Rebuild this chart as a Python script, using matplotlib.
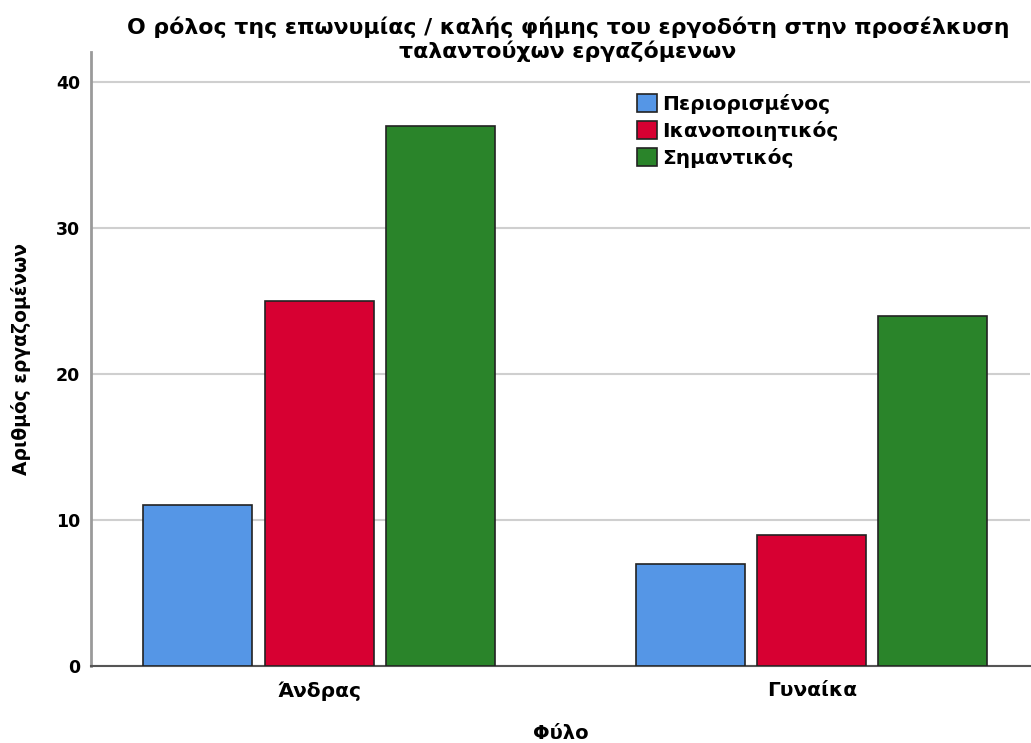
import matplotlib.pyplot as plt
import numpy as np

plt.rcParams['font.family'] = ['DejaVu Sans']

# Counts per gender and rating
genders = ['Άνδρας', 'Γυναίκα']
ratings = ['Περιορισμένος', 'Ικανοποιητικός', 'Σημαντικός']
counts = {
    'Περιορισμένος': [11, 7],
    'Ικανοποιητικός': [25, 9],
    'Σημαντικός': [37, 24],
}
colors = ['#5596E6', '#D70032', '#2A842A']

fig = plt.figure(figsize=(10.31, 7.43), dpi=100)
ax = fig.add_axes([0.0883, 0.1036, 0.9107, 0.8264])

x = np.arange(len(genders))
width = 0.2215
step = 0.246
for i, (r, c) in enumerate(zip(ratings, colors)):
    ax.bar(x + (i - 1) * step, counts[r], width, color=c, edgecolor='#222222',
           linewidth=1.2, label=r, zorder=3)

ax.set_xlim(-0.463, 1.443)
ax.set_ylim(0, 42.05)
ax.set_yticks([0, 10, 20, 30, 40])
ax.yaxis.grid(True, color='#CFCFCF', linewidth=1.5, zorder=0)
ax.set_axisbelow(True)

ax.set_xticks(x)
ax.set_xticklabels(genders, fontsize=14.5, fontweight='bold')
for lab in ax.get_yticklabels():
    lab.set_fontsize(12.5)
    lab.set_fontweight('bold')
ax.tick_params(axis='both', length=0)
ax.tick_params(axis='x', pad=11)
ax.tick_params(axis='y', pad=8)

for s in ['top', 'right']:
    ax.spines[s].set_visible(False)
ax.spines['left'].set_color('#9A9A9A')
ax.spines['left'].set_linewidth(2)
ax.spines['bottom'].set_color('#555555')
ax.spines['bottom'].set_linewidth(1.5)

ax.set_xlabel('Φύλο', fontsize=14, fontweight='bold', labelpad=17)
ax.set_ylabel('Αριθμός εργαζομένων', fontsize=13.5, fontweight='bold', labelpad=18)

fig.suptitle('Ο ρόλος της επωνυμίας / καλής φήμης του εργοδότη στην προσέλκυση\n'
             'ταλαντούχων εργαζόμενων', x=0.551, y=0.978, fontsize=15.8,
             fontweight='bold', linespacing=1.15, va='top')

ax.legend(loc='upper left', bbox_to_anchor=(0.581, 0.932), frameon=False,
          borderpad=0, borderaxespad=0, handlelength=1.0, handleheight=1.0,
          handletextpad=0.25, labelspacing=0.35,
          prop={'weight': 'bold', 'size': 14.5})

fig.savefig('out.png', dpi=100)
